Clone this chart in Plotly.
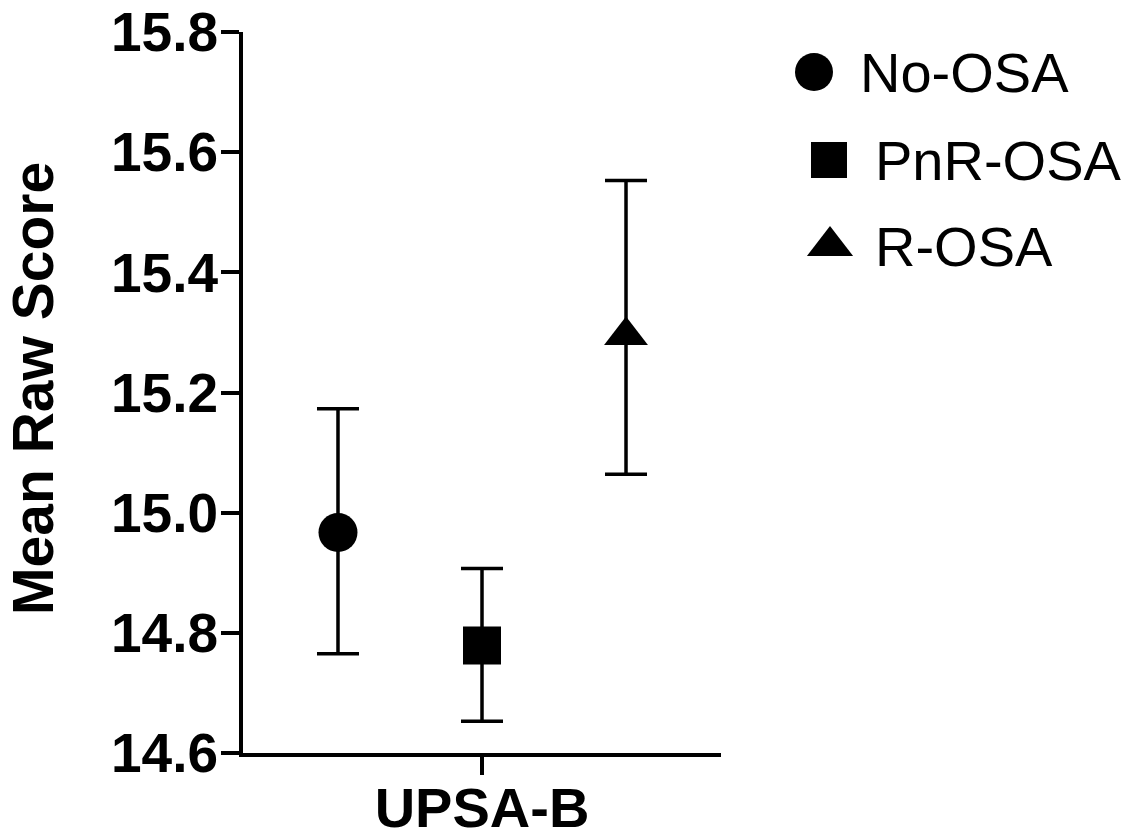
import plotly.graph_objects as go

# ---- data ----
category = ["UPSA-B"]
groups = ["No-OSA", "PnR-OSA", "R-OSA"]
means = [14.967, 14.779, 15.295]
upper = [15.173, 14.907, 15.553]
lower = [14.765, 14.653, 15.064]
y_ticks = [14.6, 14.8, 15.0, 15.2, 15.4, 15.6, 15.8]
y_title = "Mean Raw Score"

# ---- style ----
symbols = ["circle", "square", "triangle-up"]
sizes = [39, 38, 38]
FONT = "Liberation Sans, Arial, sans-serif"
OFF = 8                        # default page body margin
W, H = 1130 - OFF, 832 - OFF   # figure size so it fits the window
ML, MT, MB = 235, 24, 79
plot_w_px = W - ML             # paper width (right margin 0)
main_w_px = 478                # main x-axis length in px
leg_dom_start = 0.56
title_center_px = 25           # y-title centre, figure px

fig = go.Figure()

for i, g in enumerate(groups):
    fig.add_trace(go.Scatter(
        x=category, y=[means[i]], name=g, mode="markers",
        marker=dict(symbol=symbols[i], size=sizes[i], color="black", line=dict(width=0)),
        error_y=dict(type="data", array=[upper[i] - means[i]],
                     arrayminus=[means[i] - lower[i]],
                     color="black", thickness=3.5, width=21),
        showlegend=False, xaxis="x", yaxis="y",
    ))

# ---- custom legend (large symbols) on a helper axis (screen px units) ----
leg_x0 = ML + leg_dom_start * plot_w_px + OFF
leg_marker_x = [814, 829, 830]
leg_text_x = [858, 873, 873]
leg_row_y = [72, 160, 246]
leg_sizes = [38, 36, 40]
for i, g in enumerate(groups):
    fig.add_trace(go.Scatter(
        x=[leg_marker_x[i]], y=[leg_row_y[i]], mode="markers",
        marker=dict(symbol=symbols[i], size=leg_sizes[i], color="black"),
        showlegend=False, hoverinfo="skip", xaxis="x2", yaxis="y2",
    ))
    fig.add_annotation(x=leg_text_x[i], y=leg_row_y[i], xref="x2", yref="y2",
                       text=g, showarrow=False, xanchor="left", yanchor="middle",
                       font=dict(family=FONT, size=56, color="black"))

# y-axis title as rotated text
fig.add_annotation(x=(title_center_px - ML) / plot_w_px, y=0.505, xref="paper", yref="paper",
                   text=y_title, textangle=-90, showarrow=False,
                   xanchor="center", yanchor="middle",
                   font=dict(family=FONT, size=57, color="black", weight="bold"))

fig.update_layout(
    width=W, height=H,
    margin=dict(l=ML, r=0, t=MT, b=MB, pad=0, autoexpand=False),
    paper_bgcolor="white", plot_bgcolor="white",
    scattermode="group", scattergap=0,
    font=dict(family=FONT, color="black"),
    xaxis=dict(
        domain=[0, main_w_px / plot_w_px], type="category",
        range=[-0.5532, 0.5532], showgrid=False, zeroline=False,
        showline=True, linecolor="black", linewidth=4,
        ticks="outside", ticklen=18, tickwidth=4, tickcolor="black",
        ticklabelstandoff=-15, ticklabeloverflow="allow",
        tickfont=dict(family=FONT, size=56, color="black", weight="bold"),
        anchor="y", fixedrange=True, automargin=False,
    ),
    yaxis=dict(
        range=[14.6, 15.8], tickvals=y_ticks,
        ticktext=[f"{v:.1f}" for v in y_ticks],
        showgrid=False, zeroline=False,
        showline=True, linecolor="black", linewidth=4,
        ticks="outside", ticklen=18, tickwidth=4, tickcolor="black",
        ticklabelstandoff=-8, ticklabeloverflow="allow",
        tickfont=dict(family=FONT, size=55, color="black", weight="bold"),
        anchor="x", automargin=False,
    ),
    xaxis2=dict(domain=[leg_dom_start, 1], range=[leg_x0, W + OFF], visible=False,
                anchor="y2", fixedrange=True),
    yaxis2=dict(domain=[0, 1], range=[H - MB + OFF, MT + OFF], visible=False,
                anchor="x2", fixedrange=True),
)

fig.write_html("out.html")
